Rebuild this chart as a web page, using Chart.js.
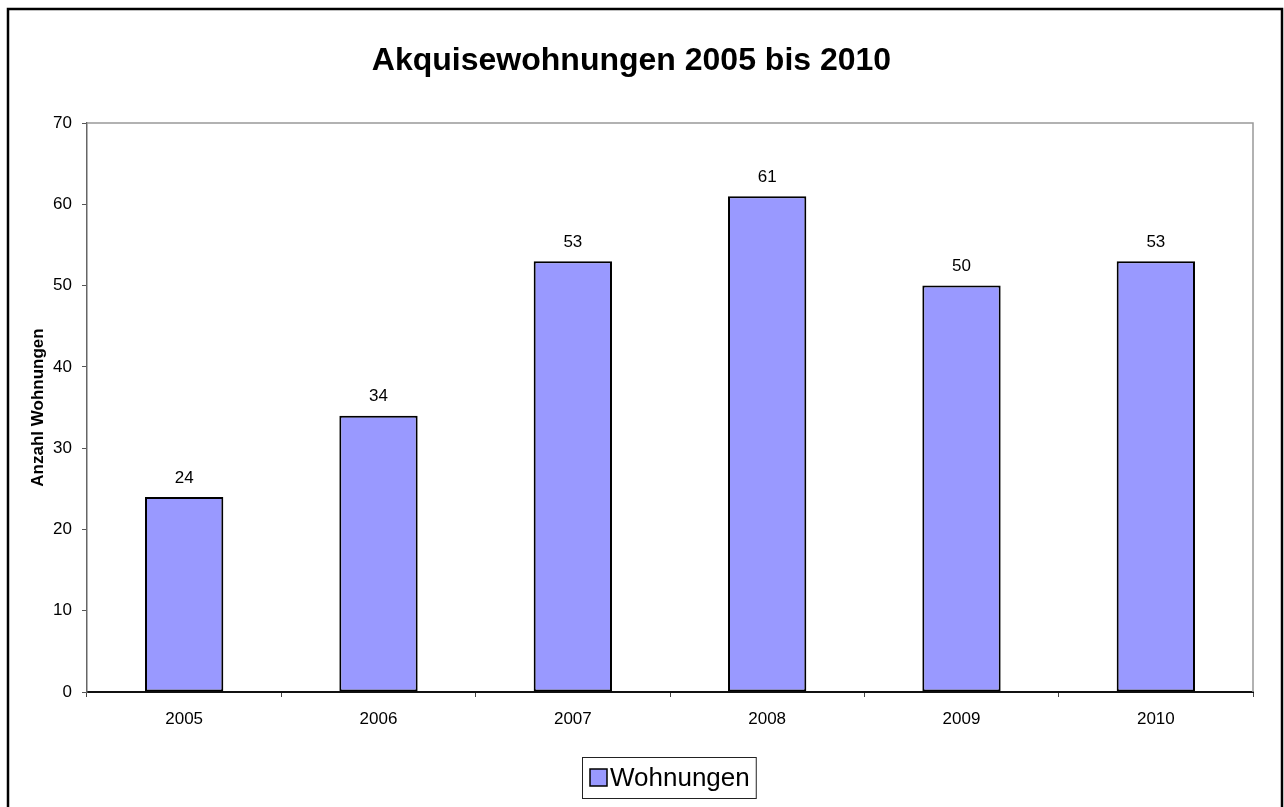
<!DOCTYPE html>
<html>
<head>
<meta charset="utf-8">
<script src="https://cdn.jsdelivr.net/npm/chart.js@4/dist/chart.umd.min.js"></script>
<style>
  html, body { margin: 0; padding: 0; background: #fff; }
  #wrap { width: 1284px; height: 807px; position: relative; }
</style>
</head>
<body>
<div id="wrap"><canvas id="c" width="1284" height="807"></canvas></div>
<script>
const categories = ['2005', '2006', '2007', '2008', '2009', '2010'];
const wohnungen = [24, 34, 53, 61, 50, 53];
const seriesName = 'Wohnungen';
const chartTitle = 'Akquisewohnungen 2005 bis 2010';
const yAxisTitle = 'Anzahl Wohnungen';
const yMin = 0, yMax = 70, yStep = 10;

const FONT = '"Liberation Sans", Arial, sans-serif';
const BAR_FILL = '#9999FF';

const frameAndExtras = {
  id: 'frameAndExtras',
  afterDraw(chart) {
    const ctx = chart.ctx;
    const ca = chart.chartArea;
    ctx.save();
    // plot area top/right border (gray)
    ctx.strokeStyle = '#999999';
    ctx.lineWidth = 1.5;
    ctx.beginPath();
    ctx.moveTo(ca.left, ca.top);
    ctx.lineTo(ca.right, ca.top);
    ctx.lineTo(ca.right, ca.bottom);
    ctx.stroke();

    // data labels
    const meta = chart.getDatasetMeta(0);
    ctx.fillStyle = '#000';
    ctx.font = '17px ' + FONT;
    ctx.textAlign = 'center';
    ctx.textBaseline = 'middle';
    meta.data.forEach((bar, i) => {
      ctx.fillText(String(chart.data.datasets[0].data[i]), bar.x, bar.y - 19);
    });

    // legend (boxed)
    ctx.font = '26px ' + FONT;
    const label = chart.data.datasets[0].label;
    const tw = ctx.measureText(label).width;
    const boxL = 582, boxT = 757, boxH = 41;
    const swL = boxL + 8, swS = 17;
    const textX = swL + swS + 3;
    const boxR = textX + tw + 6;
    const cy = boxT + boxH / 2;
    ctx.strokeStyle = '#222';
    ctx.lineWidth = 1;
    ctx.strokeRect(boxL + 0.5, boxT + 0.5, boxR - boxL, boxH);
    ctx.fillStyle = BAR_FILL;
    ctx.fillRect(swL, cy - swS / 2, swS, swS);
    ctx.strokeStyle = '#000';
    ctx.lineWidth = 1.5;
    ctx.strokeRect(swL, cy - swS / 2, swS, swS);
    ctx.fillStyle = '#000';
    ctx.textAlign = 'left';
    ctx.textBaseline = 'middle';
    ctx.fillText(label, textX, cy + 1);

    // outer chart border
    ctx.strokeStyle = '#000';
    ctx.lineWidth = 2.5;
    ctx.strokeRect(8, 9, 1274, 806);
    ctx.restore();
  }
};

new Chart(document.getElementById('c'), {
  type: 'bar',
  data: {
    labels: categories,
    datasets: [{
      label: seriesName,
      data: wohnungen,
      backgroundColor: BAR_FILL,
      borderColor: '#000',
      borderWidth: 2,
      borderSkipped: false,
      categoryPercentage: 1.0,
      barPercentage: 0.403
    }]
  },
  options: {
    responsive: false,
    animation: false,
    devicePixelRatio: 1,
    layout: { padding: { left: 10, right: 31, top: 0, bottom: 75 } },
    plugins: {
      legend: { display: false },
      tooltip: { enabled: false },
      title: {
        display: true,
        text: chartTitle,
        color: '#000',
        font: { family: FONT, size: 32, weight: 'bold' },
        padding: { top: 42, bottom: 42.6 }
      }
    },
    scales: {
      x: {
        grid: { display: true, drawOnChartArea: false, drawTicks: true, tickLength: 5, color: '#444', offset: true },
        border: { display: true, color: '#111', width: 2 },
        ticks: { color: '#000', font: { family: FONT, size: 17 }, padding: 12, maxRotation: 0 },
        afterFit(scale) { scale.height = 40; }
      },
      y: {
        min: yMin, max: yMax,
        ticks: { stepSize: yStep, color: '#000', font: { family: FONT, size: 17 }, padding: 10 },
        grid: { display: true, drawOnChartArea: false, drawTicks: true, tickLength: 5, color: '#555' },
        border: { display: true, color: '#666', width: 1.5 },
        title: {
          display: true, text: yAxisTitle, color: '#000',
          font: { family: FONT, size: 17, weight: 'bold' },
          padding: { top: 18, bottom: 0 }
        },
        afterFit(scale) { scale.width = 77; }
      }
    }
  },
  plugins: [frameAndExtras]
});
</script>
</body>
</html>
